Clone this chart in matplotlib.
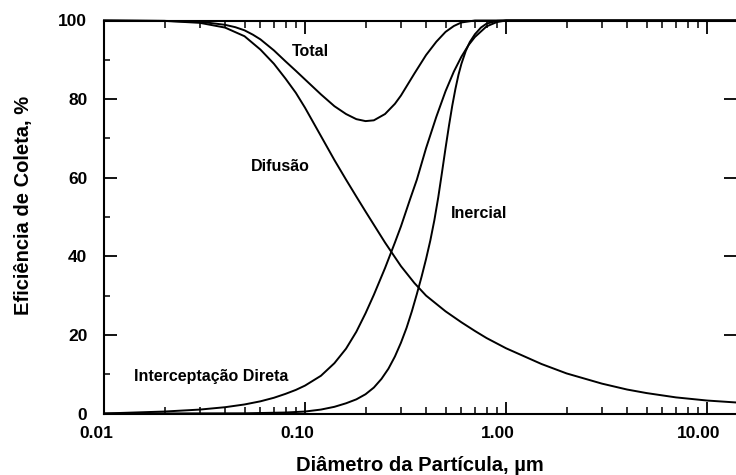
import matplotlib
matplotlib.use("Agg")
import matplotlib.pyplot as plt
import matplotlib.transforms as mtransforms
from matplotlib.ticker import FixedLocator, LogLocator, NullFormatter

plt.rcParams['font.family'] = ['Liberation Sans', 'DejaVu Sans']
plt.rcParams['font.weight'] = 'bold'

# diametro da particula (um) e eficiencia (%)
dif_d = [0.01, 0.02, 0.03, 0.04, 0.05, 0.06, 0.07, 0.08, 0.09, 0.1,
         0.12, 0.14, 0.16, 0.18, 0.2, 0.25, 0.3, 0.35, 0.4, 0.5,
         0.6, 0.7, 0.8, 1.0, 1.5, 2.0, 3.0, 4.0, 5.0, 7.0,
         10.0, 14.0]
dif_y = [100, 99.9, 99.4, 98.2, 96.0, 92.6, 89.0, 85.2, 81.6, 77.8,
         70.6, 64.5, 59.5, 55.2, 51.4, 43.5, 37.5, 33.2, 30.0, 26.0,
         23.2, 21.0, 19.2, 16.6, 12.6, 10.2, 7.6, 6.1, 5.2, 4.1,
         3.3, 2.8]

tot_d = [0.01, 0.02, 0.03, 0.04, 0.045, 0.05, 0.055, 0.06, 0.07, 0.08,
         0.09, 0.1, 0.12, 0.14, 0.16, 0.18, 0.2, 0.22, 0.25, 0.28,
         0.3, 0.35, 0.4, 0.45, 0.5, 0.55, 0.6, 0.7, 1.0, 14.0]
tot_y = [100, 99.9, 99.7, 98.9, 98.3, 97.5, 96.4, 95.2, 92.4, 89.6,
         87.2, 85.0, 81.2, 78.2, 76.2, 74.9, 74.4, 74.6, 76.2, 78.8,
         80.9, 86.5, 91.2, 94.6, 97.1, 98.6, 99.5, 100, 100, 100]

int_d = [0.01, 0.02, 0.03, 0.04, 0.05, 0.06, 0.07, 0.08, 0.09, 0.1,
         0.12, 0.14, 0.16, 0.18, 0.2, 0.22, 0.25, 0.28, 0.3, 0.333,
         0.36, 0.4, 0.45, 0.5, 0.55, 0.6, 0.65, 0.7, 0.8, 0.9,
         1.0, 14.0]
int_y = [0, 0.5, 1.0, 1.6, 2.3, 3.1, 4.0, 5.0, 6.0, 7.1,
         9.6, 12.8, 16.5, 20.8, 25.5, 30.2, 37.0, 43.5, 47.6, 54.5,
         59.5, 67.5, 75.5, 82.0, 87.0, 90.8, 93.7, 95.8, 98.5, 99.6,
         100, 100]

ine_d = [0.01, 0.05, 0.08, 0.1, 0.12, 0.14, 0.16, 0.18, 0.2, 0.22,
         0.24, 0.26, 0.28, 0.3, 0.32, 0.34, 0.36, 0.38, 0.4, 0.42,
         0.44, 0.46, 0.48, 0.5, 0.52, 0.54, 0.56, 0.58, 0.6, 0.63,
         0.66, 0.7, 0.75, 0.8, 0.9, 1.0, 14.0]
ine_y = [0, 0.05, 0.25, 0.5, 1.0, 1.7, 2.6, 3.6, 4.9, 6.6,
         8.8, 11.4, 14.5, 18.0, 21.8, 26.0, 30.4, 34.8, 39.3, 44.0,
         49.2, 55.0, 61.3, 67.5, 73.2, 78.3, 82.6, 86.2, 89.0, 92.2,
         94.5, 96.5, 98.2, 99.2, 99.9, 100, 100]

x_ticks = [0.01, 0.1, 1, 10]
x_labels = ['0.01', '0.10', '1.00', '10.00']
y_ticks = [0, 20, 40, 60, 80, 100]

fig = plt.figure(figsize=(7.36, 4.75), dpi=100)
ax = fig.add_axes([104 / 736, 61.5 / 475, 632 / 736, 393 / 475])

for d, y in [(dif_d, dif_y), (tot_d, tot_y), (int_d, int_y), (ine_d, ine_y)]:
    ax.plot(d, y, color='black', lw=1.4, clip_on=False)

ax.set_xscale('log')
ax.set_xlim(0.01, 13.93)
ax.set_ylim(0, 100)

ax.xaxis.set_major_locator(FixedLocator(x_ticks))
ax.set_xticklabels(x_labels)
ax.xaxis.set_minor_locator(LogLocator(base=10, subs=range(2, 10)))
ax.xaxis.set_minor_formatter(NullFormatter())
ax.set_yticks(y_ticks)
ax.set_yticks([10, 30, 50, 70, 90], minor=True)

ax.tick_params(axis='x', which='major', direction='in', length=9, width=1.3,
               top=True, labelsize=12.5, pad=9)
ax.tick_params(axis='x', which='minor', direction='in', length=5, width=1.1, top=True)
ax.tick_params(axis='y', which='major', direction='in', length=9, width=1.3,
               right=True, labelsize=12.5, pad=12)
ax.tick_params(axis='y', which='minor', direction='in', length=4, width=1.1)

# as etiquetas do eixo x ficam um pouco a esquerda dos tracos
shift = mtransforms.ScaledTranslation(-8 / 100, 0, fig.dpi_scale_trans)
for lab in ax.get_xticklabels():
    lab.set_transform(lab.get_transform() + shift)
for lab in ax.get_xticklabels() + ax.get_yticklabels():
    lab.set_fontweight('bold')

ax.spines['right'].set_visible(False)
for s in ['left', 'bottom', 'top']:
    ax.spines[s].set_linewidth(1.5)

ax.set_xlabel('Diâmetro da Partícula, µm', fontsize=14.5, fontweight='bold', labelpad=11)
ax.set_ylabel('Eficiência de Coleta, %', fontsize=14.5, fontweight='bold')
ax.yaxis.set_label_coords(-0.112, 0.53)

ax.text(0.107, 92, 'Total', fontsize=11.5, fontweight='bold', ha='center', va='center')
ax.text(0.075, 62.8, 'Difusão', fontsize=11.5, fontweight='bold', ha='center', va='center')
ax.text(0.735, 50.8, 'Inercial', fontsize=11.5, fontweight='bold', ha='center', va='center')
ax.text(0.034, 9.4, 'Interceptação Direta', fontsize=11.5, fontweight='bold',
        ha='center', va='center')

fig.savefig('out.png', dpi=100)
